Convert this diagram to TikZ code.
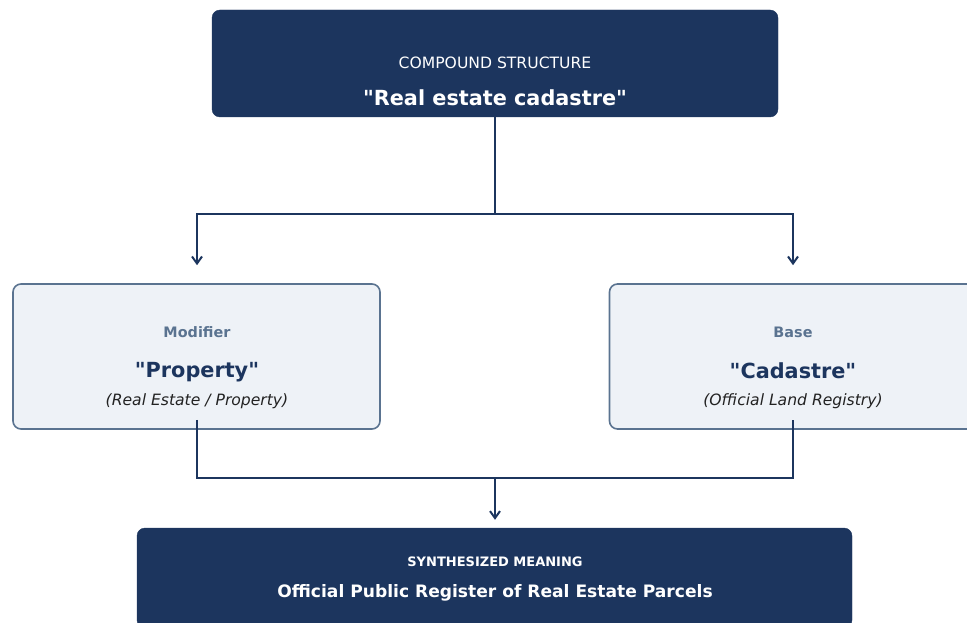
\documentclass[tikz,border=0pt]{standalone}
\usepackage{fontspec}
\setmainfont{DejaVu Sans}
\usetikzlibrary{arrows.meta}
\usetikzlibrary{calc}

\definecolor{navy}{HTML}{1C355E}
\definecolor{paleblue}{HTML}{EEF2F7}
\definecolor{slate}{HTML}{5A7390}
\definecolor{inkgrey}{HTML}{222222}

\newcommand{\qt}{\textquotedbl}

\begin{document}
\begin{tikzpicture}[x=1pt,y=-1pt,
  darkbox/.style={fill=navy,draw=navy,rounded corners=8pt,inner sep=0pt},
  lightbox/.style={fill=paleblue,draw=slate,line width=1.6pt,rounded corners=8pt,inner sep=0pt},
  link/.style={draw=navy,line width=2.6pt},
  arrowlink/.style={link,-{Straight Barb[length=7pt,width=10pt,line width=2pt]}}]

\useasboundingbox (0,0) rectangle (967,623);

% Set box sizes
\def\topw{566}
\def\toph{107}
\def\sidew{367}
\def\sideh{145}
\def\botw{715}
\def\both{100}

% Compound
\node[darkbox,minimum width=\topw pt,minimum height=\toph pt] (Compound) at (495,63.5) {};
\node[text=white,font=\fontsize{15.6}{18}\selectfont] (CompoundTag) at (495,62.5) {COMPOUND STRUCTURE};
\node[text=white,font=\fontsize{20.8}{24}\selectfont\bfseries] (CompoundWord) at (495,97.5) {\qt Real estate cadastre\qt};

% Modifier
\node[lightbox,minimum width=\sidew pt,minimum height=\sideh pt] (Modifier) at (196.5,356.5) {};
\node[text=slate,font=\fontsize{14.4}{17}\selectfont\bfseries] (ModifierTag) at (197,332.5) {Modifier};
\node[text=navy,font=\fontsize{20.8}{24}\selectfont\bfseries] (ModifierWord) at (197,372) {\qt Property\qt};
\node[text=inkgrey,font=\fontsize{15.6}{18}\selectfont\itshape] (ModifierGloss) at (197,401.5) {(Real Estate / Property)};

% Base
\node[lightbox,minimum width=\sidew pt,minimum height=\sideh pt] (Base) at (793,356.5) {};
\node[text=slate,font=\fontsize{14.4}{17}\selectfont\bfseries] (BaseTag) at (793,332.5) {Base};
\node[text=navy,font=\fontsize{20.8}{24}\selectfont\bfseries] (BaseWord) at (793,371) {\qt Cadastre\qt};
\node[text=inkgrey,font=\fontsize{15.6}{18}\selectfont\itshape] (BaseGloss) at (793,401.5) {(Official Land Registry)};

% Meaning
\node[darkbox,minimum width=\botw pt,minimum height=\both pt] (Meaning) at (494.5,578) {};
\node[text=white,font=\fontsize{13}{16}\selectfont\bfseries] (MeaningTag) at (495,562) {SYNTHESIZED MEANING};
\node[text=white,font=\fontsize{17.1}{20}\selectfont\bfseries] (MeaningText) at (495,592.5) {Official Public Register of Real Estate Parcels};

% split
\coordinate (SplitMid) at (495,214);
\draw[link] (Compound.south) -- (SplitMid);
\draw[arrowlink] (SplitMid) -| ($(Modifier.north)+(0.5,-18)$);
\draw[arrowlink] (SplitMid) -| ($(Base.north)+(0,-18)$);

% join
\coordinate (JoinLeft) at (197,478);
\coordinate (JoinRight) at (793,478);
\coordinate (JoinMid) at (495,478);
\draw[link] ($(Modifier.south)+(0.5,-10)$) -- (JoinLeft) -- (JoinRight) -- ($(Base.south)+(0,-10)$);
\draw[arrowlink] (JoinMid) -- ($(Meaning.north)+(0.5,-8)$);

\end{tikzpicture}
\end{document}
